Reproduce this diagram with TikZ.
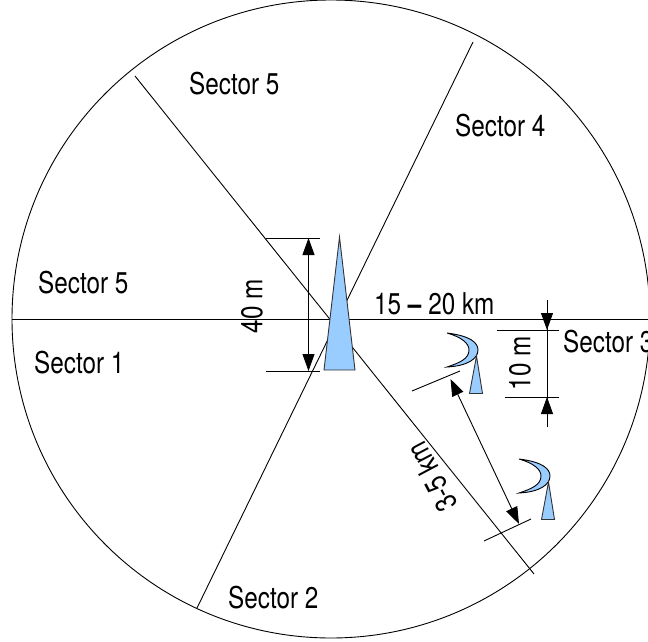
\documentclass[tikz,border=0pt]{standalone}
\usepackage{fontspec}
\setmainfont{TeX Gyre Heros}[FakeStretch=0.81]
\usetikzlibrary{arrows.meta}
\definecolor{tower}{HTML}{99CCFF}
\tikzset{
  label/.style={font=\fontsize{30}{32}\selectfont,inner sep=0pt},
  thin line/.style={draw=black,line width=0.9pt},
  dim/.style={thin line,{Triangle[length=17pt,width=12pt]}-{Triangle[length=17pt,width=12pt]}},
  solid fill/.style={draw=black!80,line width=0.9pt,fill=tower},
}
\begin{document}
\begin{tikzpicture}[x=1pt,y=-1pt]
   \useasboundingbox (0,0) rectangle (648,642);
   \draw[thin line] (331,319) circle (319pt);
   % spokes
   \coordinate (w) at (12,319);
   \coordinate (e) at (650,319);
   \coordinate (nw) at (135,76);
   \coordinate (se) at (534,574);
   \coordinate (ne) at (473,42);
   \coordinate (sw) at (197,608);
   \foreach \a/\b in {w/e,nw/se,ne/sw} { \draw[thin line] (\a) -- (\b); }
   % tower
   \coordinate (t1) at (339.5,237);
   \coordinate (t2) at (324,370);
   \coordinate (t3) at (355,370);
   \filldraw[solid fill] (t1) -- (t2) -- (t3) -- cycle;
   % 40 m
   \coordinate (a1) at (266,238);
   \coordinate (a2) at (320,238);
   \coordinate (a3) at (266,371);
   \coordinate (a4) at (320,371);
   \coordinate (a5) at (308.5,238);
   \coordinate (a6) at (308.5,371);
   \draw[thin line] (a1) -- (a2);
   \draw[thin line] (a3) -- (a4);
   \draw[dim] (a5) -- (a6);
   % 10 m
   \coordinate (b1) at (497,330);
   \coordinate (b2) at (559,330);
   \coordinate (b3) at (505,397);
   \coordinate (b4) at (559,397);
   \coordinate (b5) at (547,300);
   \coordinate (b6) at (547,427);
   \coordinate (b7) at (547,330);
   \coordinate (b8) at (547,397);
   \draw[thin line] (b1) -- (b2);
   \draw[thin line] (b3) -- (b4);
   \draw[thin line] (b5) -- (b6);
   \draw[thin line,-{Triangle[length=17pt,width=12pt]}] (b5) -- (b7);
   \draw[thin line,-{Triangle[length=17pt,width=12pt]}] (b6) -- (b8);
   % 3-5 km
   \coordinate (c1) at (412,391);
   \coordinate (c2) at (460,371);
   \coordinate (c3) at (484,541);
   \coordinate (c4) at (531,519);
   \coordinate (c5) at (450.5,379);
   \coordinate (c6) at (519,524);
   \draw[thin line] (c1) -- (c2);
   \draw[thin line] (c3) -- (c4);
   \draw[dim] (c5) -- (c6);
   % dishes
   \foreach \x/\y in {447/333,519/459} {
     \filldraw[solid fill,draw=black] (\x,\y) .. controls (\x+24,\y+3) and (\x+31,\y+10) .. (\x+31,\y+17)
        .. controls (\x+31,\y+26) and (\x+20,\y+33) .. (\x,\y+34)
        .. controls (\x+12,\y+30) and (\x+22,\y+26) .. (\x+22,\y+17)
        .. controls (\x+22,\y+10) and (\x+14,\y+4) .. cycle;
     \filldraw[solid fill] (\x+29.5,\y+23) -- (\x+22.5,\y+60.5) -- (\x+35.5,\y+60.5) -- cycle;
   }
   % labels
   \node[label,anchor=west] (sec5a) at (189,84) {Sector 5};
   \node[label,anchor=west] (sec4) at (455,126) {Sector 4};
   \node[label,anchor=west] (sec5b) at (38,283) {Sector 5};
   \node[label,anchor=west] (sec1) at (34,363) {Sector 1};
   \node[label,anchor=west] (sec2) at (228,598) {Sector 2};
   \node[label,anchor=west] (sec3) at (563,342) {Sector 3};
   \node[label,anchor=west] (range) at (374,304) {15 \textbf{--} 20 km};
   \node[label,rotate=90] (height) at (252,306) {40 m};
   \node[label,rotate=90] (dish) at (520,363) {10 m};
   \node[label,rotate=118] (spacing) at (432,477) {3-5 km};
\end{tikzpicture}
\end{document}
